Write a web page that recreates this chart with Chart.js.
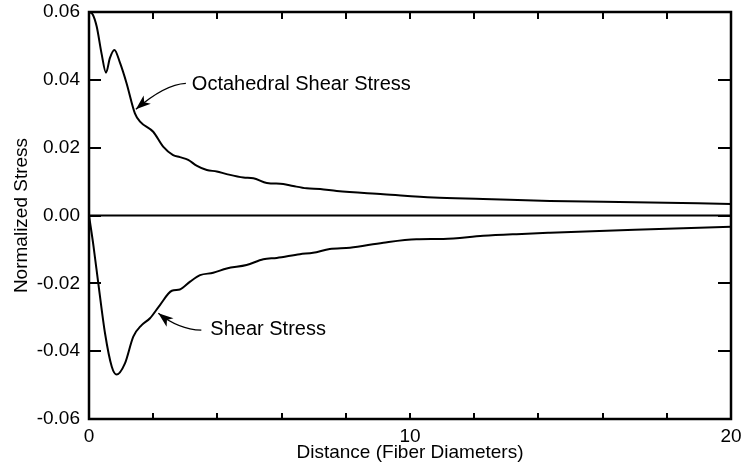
<!DOCTYPE html>
<html>
<head>
<meta charset="utf-8">
<title>Normalized Stress vs Distance</title>
<script src="https://cdn.jsdelivr.net/npm/chart.js@4.4.1/dist/chart.umd.min.js"></script>
<style>
    html, body { margin: 0; padding: 0; background: #fff; }
    #stressChart { display: block; }
</style>
</head>
<body>
<canvas id="stressChart" width="742" height="473"></canvas>
<script>
// Octahedral shear stress along the fiber
const octDistance = [0, 0.12, 0.24, 0.39, 0.53, 0.65, 0.79, 0.97, 1.17, 1.43, 1.59, 2.0, 2.31, 2.62, 2.83,
    3.09, 3.35, 3.67, 3.98, 4.29, 4.81, 5.12, 5.54, 6.05, 6.36, 6.78, 7.2, 7.72, 9.17, 10.73, 12.28, 14.36, 17, 20];
const octStress = [0.060, 0.0592, 0.0557, 0.0478, 0.0421, 0.0464, 0.0488, 0.0449, 0.039, 0.0301, 0.0277, 0.0247,
    0.0203, 0.0178, 0.0172, 0.0164, 0.0147, 0.0134, 0.0130, 0.0122, 0.0112, 0.0110, 0.0096, 0.0093, 0.0087,
    0.0080, 0.0078, 0.0072, 0.0063, 0.0053, 0.0049, 0.0043, 0.0039, 0.0034];

// Shear stress along the fiber
const shearDistance = [0, 0.14, 0.29, 0.5, 0.71, 0.86, 1.12, 1.38, 1.64, 1.9, 2.21, 2.58, 2.83, 3.15, 3.46,
    3.87, 4.29, 4.91, 5.43, 5.85, 6.57, 6.98, 7.5, 8.13, 9.17, 10.2, 11.04, 12.28, 13.32, 14.36, 17, 20];
const shearStress = [0, -0.009, -0.020, -0.0348, -0.0446, -0.0469, -0.0436, -0.0357, -0.0323, -0.0303, -0.0264,
    -0.0222, -0.0218, -0.0195, -0.0176, -0.0169, -0.0156, -0.0146, -0.0129, -0.0125, -0.0114, -0.0110,
    -0.0099, -0.0095, -0.0080, -0.0070, -0.0069, -0.0060, -0.0055, -0.0051, -0.0042, -0.0033];

// Axis ticks
const xLabelValues = [0, 10, 20];
const yTickValues = [-0.06, -0.04, -0.02, 0, 0.02, 0.04, 0.06];

// Callout labels, anchored at a point on each curve
const calloutText = ['Octahedral Shear Stress', 'Shear Stress'];
const calloutAnchorX = [1.46, 2.16];
const calloutAnchorY = [0.0313, -0.0288];

const FONT = '"Liberation Sans", Arial, Helvetica, sans-serif';

function toPoints(xs, ys) {
    return xs.map((x, i) => ({ x: x, y: ys[i] }));
}

// Draws an arrow from the text to the curve with a filled head
function drawArrow(ctx, x0, y0, cx, cy, x1, y1) {
    ctx.beginPath();
    ctx.moveTo(x0, y0);
    ctx.quadraticCurveTo(cx, cy, x1, y1);
    ctx.lineWidth = 1.3;
    ctx.stroke();

    const ang = Math.atan2(y1 - cy, x1 - cx);
    const len = 15, half = 5.5;
    const bx = x1 - len * Math.cos(ang);
    const by = y1 - len * Math.sin(ang);
    ctx.beginPath();
    ctx.moveTo(x1, y1);
    ctx.lineTo(bx + half * Math.sin(ang), by - half * Math.cos(ang));
    ctx.lineTo(bx + 4 * Math.cos(ang), by + 4 * Math.sin(ang));
    ctx.lineTo(bx - half * Math.sin(ang), by + half * Math.cos(ang));
    ctx.closePath();
    ctx.fill();
}

// Frame, inward ticks, zero line and callouts
const framePlugin = {
    id: 'frame',
    beforeDatasetsDraw(chart) {
        const { ctx, chartArea: a, scales: { y } } = chart;
        const y0 = y.getPixelForValue(0);
        ctx.save();
        ctx.strokeStyle = '#000';
        ctx.lineWidth = 2;
        ctx.beginPath();
        ctx.moveTo(a.left, y0);
        ctx.lineTo(a.right, y0);
        ctx.stroke();
        ctx.restore();
    },
    afterDatasetsDraw(chart) {
        const { ctx, chartArea: a, scales: { x, y } } = chart;
        ctx.save();
        ctx.strokeStyle = '#000';
        ctx.fillStyle = '#000';

        // ticks every 2 fiber diameters on top and bottom
        ctx.lineWidth = 2;
        ctx.beginPath();
        for (let d = 2; d < 20; d += 2) {
            const px = Math.round(x.getPixelForValue(d));
            ctx.moveTo(px, a.top);
            ctx.lineTo(px, a.top + 7);
            ctx.moveTo(px, a.bottom);
            ctx.lineTo(px, a.bottom - 6);
        }
        yTickValues.forEach(v => {
            if (v <= y.min || v >= y.max) return;
            const py = Math.round(y.getPixelForValue(v));
            ctx.moveTo(a.left, py);
            ctx.lineTo(a.left + 12, py);
            ctx.moveTo(a.right, py);
            ctx.lineTo(a.right - 13, py);
        });
        ctx.stroke();

        ctx.lineWidth = 2.5;
        ctx.strokeRect(a.left, a.top, a.right - a.left, a.bottom - a.top);

        // callouts
        ctx.font = '20px ' + FONT;
        ctx.textBaseline = 'middle';
        ctx.textAlign = 'left';
        ctx.lineWidth = 1.3;

        const t0x = x.getPixelForValue(calloutAnchorX[0]);
        const t0y = y.getPixelForValue(calloutAnchorY[0]);
        drawArrow(ctx, t0x + 50, t0y - 26, t0x + 29, t0y - 25, t0x, t0y);
        ctx.fillText(calloutText[0], t0x + 56, t0y - 25);

        const t1x = x.getPixelForValue(calloutAnchorX[1]);
        const t1y = y.getPixelForValue(calloutAnchorY[1]);
        drawArrow(ctx, t1x + 43, t1y + 17, t1x + 20, t1y + 16, t1x, t1y);
        ctx.fillText(calloutText[1], t1x + 52, t1y + 16);

        ctx.restore();
    }
};

document.addEventListener('DOMContentLoaded', function() {
    const chartCtx = document.getElementById('stressChart');

    new Chart(chartCtx, {
        type: 'line',
        data: {
            datasets: [{
                label: calloutText[0],
                data: toPoints(octDistance, octStress),
                borderColor: '#000',
                borderWidth: 2,
                pointRadius: 0,
                cubicInterpolationMode: 'monotone',
                fill: false
            }, {
                label: calloutText[1],
                data: toPoints(shearDistance, shearStress),
                borderColor: '#000',
                borderWidth: 2,
                pointRadius: 0,
                cubicInterpolationMode: 'monotone',
                fill: false
            }]
        },
        options: {
            responsive: false,
            animation: false,
            devicePixelRatio: 1,
            layout: {
                padding: 0
            },
            plugins: {
                legend: { display: false },
                tooltip: { enabled: false }
            },
            scales: {
                x: {
                    type: 'linear',
                    min: 0,
                    max: 20,
                    grid: { display: false, drawTicks: false },
                    border: { display: false },
                    afterBuildTicks: function(scale) {
                        scale.ticks = xLabelValues.map(v => ({ value: v }));
                    },
                    ticks: {
                        color: '#000',
                        padding: 6,
                        maxRotation: 0,
                        autoSkip: false,
                        font: { family: FONT, size: 19 }
                    },
                    title: {
                        display: true,
                        text: 'Distance (Fiber Diameters)',
                        color: '#000',
                        padding: { top: 0, bottom: 9 },
                        font: { family: FONT, size: 19 }
                    },
                    afterFit: function(scale) {
                        scale.height = 54;
                        scale.paddingLeft = 0;
                        scale.paddingRight = 11;
                    }
                },
                y: {
                    min: -0.06,
                    max: 0.06,
                    grid: { display: false, drawTicks: false },
                    border: { display: false },
                    afterBuildTicks: function(scale) {
                        scale.ticks = yTickValues.map(v => ({ value: v }));
                    },
                    ticks: {
                        color: '#000',
                        padding: 9,
                        autoSkip: false,
                        font: { family: FONT, size: 19 },
                        callback: function(value) {
                            return value.toFixed(2);
                        }
                    },
                    title: {
                        display: true,
                        text: 'Normalized Stress',
                        color: '#000',
                        padding: { top: 10, bottom: 0 },
                        font: { family: FONT, size: 19 }
                    },
                    afterFit: function(scale) {
                        scale.width = 89;
                        scale.paddingTop = 12;
                        scale.paddingBottom = 0;
                    }
                }
            }
        },
        plugins: [framePlugin]
    });
});
</script>
</body>
</html>
